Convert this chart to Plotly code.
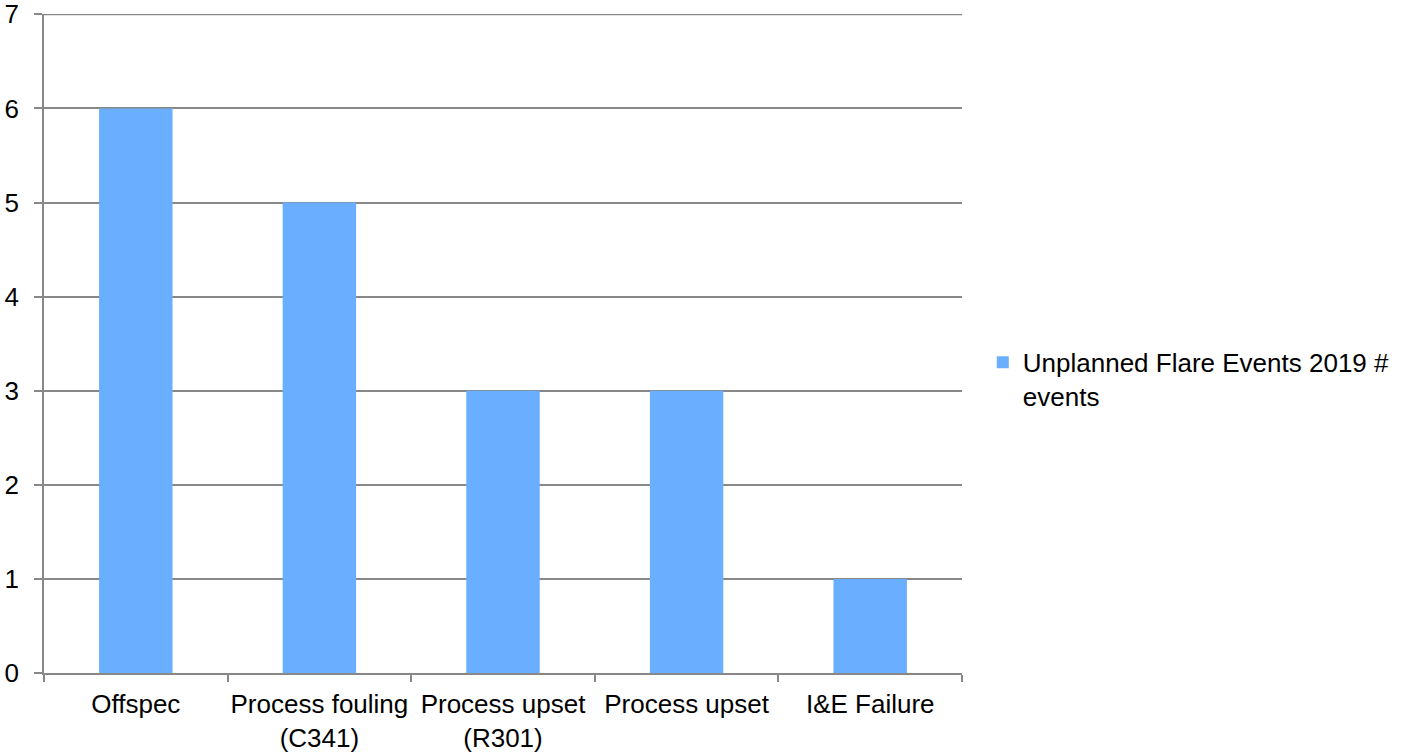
import plotly.graph_objects as go

# Unplanned flare events by cause, 2019
categories = ["Offspec", "Process fouling<br>(C341)", "Process upset<br>(R301)",
              "Process upset", "I&E Failure"]
event_counts = [6, 5, 3, 3, 1]
series_name = "Unplanned Flare Events 2019 #<br>events"
y_ticks = [0, 1, 2, 3, 4, 5, 6, 7]

BAR_COLOR = "#6aafff"
LINE_COLOR = "#888888"
FONT = "Liberation Sans, Arial, sans-serif"

fig = go.Figure(
    go.Bar(
        x=categories,
        y=event_counts,
        name=series_name,
        marker=dict(color=BAR_COLOR, line=dict(width=0)),
        showlegend=True,
    )
)

fig.update_layout(
    width=1404,
    height=753,
    margin=dict(l=44, r=442, t=14, b=80, autoexpand=False),
    paper_bgcolor="white",
    plot_bgcolor="white",
    font=dict(family=FONT, size=26, color="black"),
    bargap=0.6,
    legend=dict(
        xref="container",
        yref="container",
        x=0.700,
        y=0.550,
        xanchor="left",
        yanchor="top",
        valign="top",
        itemwidth=30,
        font=dict(size=26),
        bgcolor="rgba(0,0,0,0)",
    ),
    # gridline along the top of the value range
    shapes=[
        dict(type="line", xref="paper", yref="y", x0=0, x1=1,
             y0=y_ticks[-1], y1=y_ticks[-1],
             line=dict(color=LINE_COLOR, width=1.5), layer="below"),
    ],
)

fig.update_xaxes(
    automargin=False,
    showline=True,
    linecolor=LINE_COLOR,
    linewidth=1.5,
    ticks="outside",
    tickson="boundaries",
    ticklen=7,
    tickcolor=LINE_COLOR,
    tickwidth=1.5,
    ticklabelstandoff=7,
    ticklabeloverflow="allow",
    showgrid=False,
    tickangle=0,
)

fig.update_yaxes(
    automargin=False,
    range=[0, y_ticks[-1] + 0.004],
    tickvals=y_ticks,
    showline=True,
    linecolor=LINE_COLOR,
    linewidth=1.5,
    showgrid=True,
    gridcolor=LINE_COLOR,
    gridwidth=1.5,
    zeroline=False,
    ticks="outside",
    ticklen=8,
    tickcolor=LINE_COLOR,
    tickwidth=1.5,
    ticklabelstandoff=10,
    ticklabeloverflow="allow",
)

fig.write_html("out.html")
